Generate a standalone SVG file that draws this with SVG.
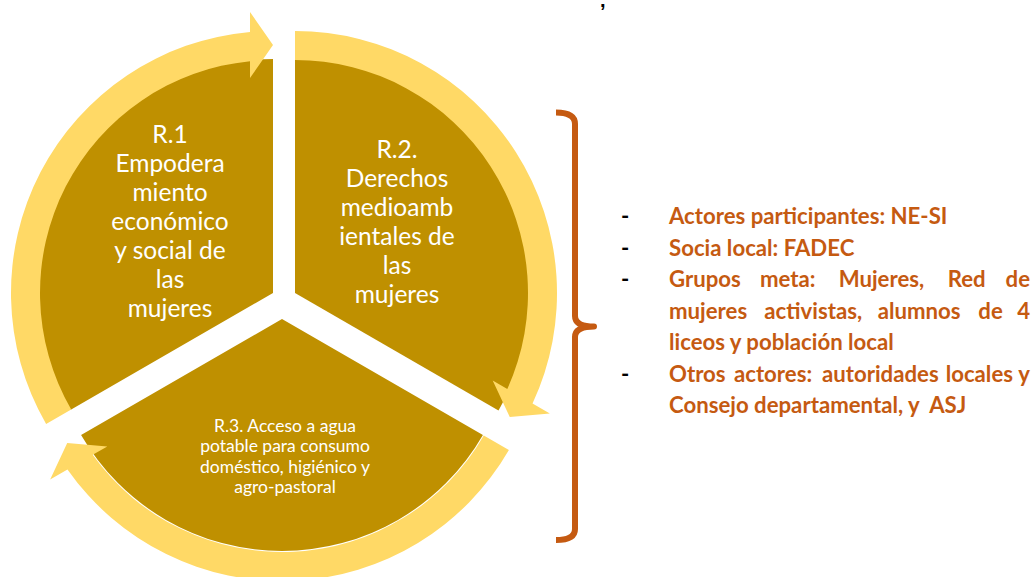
<svg xmlns="http://www.w3.org/2000/svg" width="1032" height="577" viewBox="0 0 1032 577">
<style>
.sector{fill:#BF9000}
.arrow{fill:#FFD966}
.big{font-family:Lato,"Liberation Sans",sans-serif;font-size:24.5px;fill:#FFFFFF;text-anchor:middle}
.small{font-family:Lato,"Liberation Sans",sans-serif;font-size:17.5px;fill:#FFFFFF;text-anchor:middle}
.info{font-family:Lato,"Liberation Sans",sans-serif;font-weight:bold;font-size:22.2px;fill:#C55A11}
.dash{font-family:Lato,"Liberation Sans",sans-serif;font-weight:bold;font-size:22.2px;fill:#000000}
.brace{fill:none;stroke:#C55A11;stroke-width:6;stroke-linecap:butt;stroke-linejoin:round}
</style>
<rect width="1032" height="577" fill="#FFFFFF"/>
<text x="600" y="7" font-family="Liberation Sans, sans-serif" font-weight="bold" font-size="20" fill="#000000">,</text>
<g id="node-r1">
<path class="sector" d="M273,293 L70.35,410 A234,234 0 0 1 273,59 Z"/>
<text class="big"><tspan x="170" y="143">R.1</tspan><tspan x="170" y="172">Empodera</tspan><tspan x="170" y="201">miento</tspan><tspan x="170" y="230">económico</tspan><tspan x="170" y="259">y social de</tspan><tspan x="170" y="288">las</tspan><tspan x="170" y="317">mujeres</tspan></text>
</g>
<g id="node-r2">
<path class="sector" d="M295,293 L295,58 A235,235 0 0 1 498.5,410.5 Z"/>
<text class="big"><tspan x="397" y="158">R.2.</tspan><tspan x="397" y="187">Derechos</tspan><tspan x="397" y="216">medioamb</tspan><tspan x="397" y="245">ientales de</tspan><tspan x="397" y="274">las</tspan><tspan x="397" y="303">mujeres</tspan></text>
</g>
<g id="node-r3">
<path class="sector" d="M282,319 L482.92,435 A232,232 0 0 1 81.08,435 Z"/>
<text class="small"><tspan x="285" y="432">R.3. Acceso a agua</tspan><tspan x="285" y="452.3">potable para consumo</tspan><tspan x="285" y="472.6">doméstico, higiénico y</tspan><tspan x="285" y="492.9">agro-pastoral</tspan></text>
</g>
<g id="connectors">
<path class="arrow" d="M46.10,424 A262,262 0 0 1 250,32 L250,12 L273,45 L250,78 L250,61.14 A233,233 0 0 0 71.22,409.5 Z"/>
<path class="arrow" d="M295,31 A262,262 0 0 1 532.53,403.58 L549.85,413.58 L509.77,417 L492.69,380.58 L507.30,389.01 A233,233 0 0 0 295,60 Z"/>
<path class="arrow" d="M508.90,450 A262,262 0 0 1 67.47,469.42 L50.15,479.42 L67.23,443 L107.31,446.42 L92.70,454.85 A233,233 0 0 0 483.78,435.5 Z"/>
</g>
<g id="node-info">
<path class="brace" d="M556,112.5 Q575,112.5 575,124 L575,316 Q575,326.5 594,326.5 Q575,326.5 575,337 L575,529 Q575,540 556,540"/>
<text class="dash" x="621" y="224">-</text>
<text class="dash" x="621" y="255.5">-</text>
<text class="dash" x="621" y="287">-</text>
<text class="dash" x="621" y="381.5">-</text>
<text class="info" x="669" y="224">Actores participantes: NE-SI</text>
<text class="info" x="669" y="255.5">Socia local: FADEC</text>
<text class="info" y="287"><tspan x="669">Grupos</tspan><tspan x="760">meta:</tspan><tspan x="838.7">Mujeres,</tspan><tspan x="947.7">Red</tspan><tspan x="1030" text-anchor="end">de</tspan></text>
<text class="info" y="318.5"><tspan x="669">mujeres</tspan><tspan x="764.3">activistas,</tspan><tspan x="877.7">alumnos</tspan><tspan x="978.3">de</tspan><tspan x="1030" text-anchor="end">4</tspan></text>
<text class="info" x="669" y="350">liceos y población local</text>
<text class="info" y="381.5"><tspan x="669">Otros</tspan><tspan x="734">actores:</tspan><tspan x="822">autoridades</tspan><tspan x="1013" text-anchor="end">locales</tspan><tspan x="1030" text-anchor="end">y</tspan></text>
<text class="info" x="669" y="413" xml:space="preserve">Consejo departamental, y  ASJ</text>
</g>
</svg>
